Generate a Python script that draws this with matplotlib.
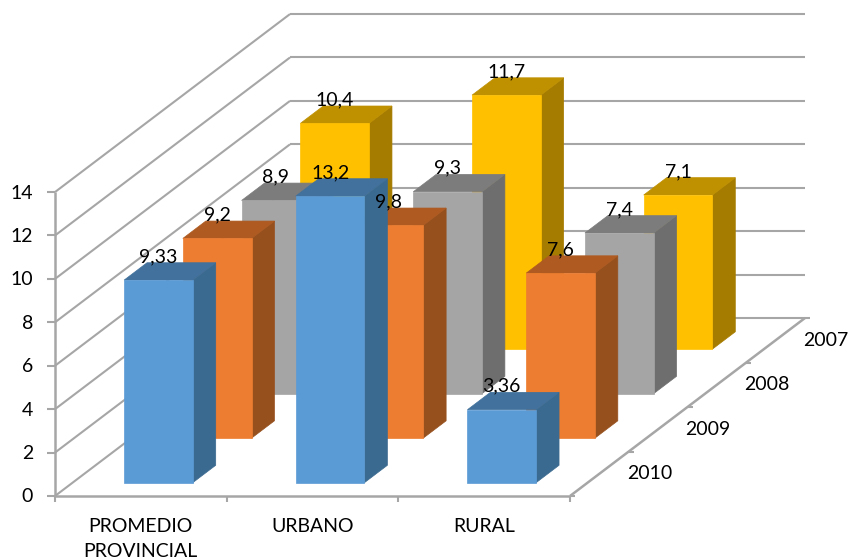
from matplotlib import pyplot as plt

plt.rcParams['font.family'] = ['Lato', 'DejaVu Sans']

categorias = ['PROMEDIO\nPROVINCIAL', 'URBANO', 'RURAL']
# de adelante hacia atras
anios = ['2010', '2009', '2008', '2007']
v2010 = [9.33, 13.2, 3.36]
v2009 = [9.2, 9.8, 7.6]
v2008 = [8.9, 9.3, 7.4]
v2007 = [10.4, 11.7, 7.1]
valores = [v2010, v2009, v2008, v2007]
yticks = [0, 2, 4, 6, 8, 10, 12, 14]

# frente, tapa, costado
colores = [('#5B9BD5', '#41719C', '#3B6A90'),
           ('#ED7D31', '#AE5A21', '#96501D'),
           ('#A5A5A5', '#7C7C7C', '#6E6E6E'),
           ('#FFC000', '#BF9000', '#A67C00')]
gris = '#A6A6A6'


def proy(x, d, v):
    # x en categorias, d en anios, v en valor -> pixel de la imagen
    return 55 + 171.67*x + 58.75*d, 496 - 44.5*d - 21.71*v


def linea(p1, p2, lw=1.5):
    ax.plot([p1[0], p2[0]], [p1[1], p2[1]], color=gris, lw=lw,
            solid_capstyle='butt', zorder=1)


def cara(puntos, col):
    ax.fill([p[0] for p in puntos], [p[1] for p in puntos], color=col,
            lw=0.5, zorder=2)


fig = plt.figure(figsize=(8.49, 5.6), dpi=100)
ax = fig.add_axes([0, 0, 1, 1])
ax.set_xlim(0, 849)
ax.set_ylim(560, 0)
ax.axis('off')

nx = len(categorias)
nd = len(anios)

# paredes
for t in yticks:
    linea(proy(0, 0, t), proy(0, nd, t))
    linea(proy(0, nd, t), proy(nx, nd, t))
    x0, y0 = proy(0, 0, t)
    linea((x0 - 8, y0), (x0, y0))
    ax.text(33, y0 + 1, str(t), ha='right', va='center', fontsize=14, color='black')
linea(proy(0, 0, 0), proy(0, 0, yticks[-1]), 1.8)

# piso
linea(proy(0, 0, 0), proy(nx, 0, 0), 1.8)
linea(proy(nx, 0, 0), proy(nx, nd, 0), 1.8)
for i in range(nx + 1):
    x0, y0 = proy(i, 0, 0)
    linea((x0, y0), (x0, y0 + 6))
for j in range(nd + 1):
    x0, y0 = proy(nx, j, 0)
    linea((x0, y0), (x0 + 5, y0))
for j in range(nd):
    x0, y0 = proy(nx, j + 0.5, 0)
    ax.text(x0 + 50, y0, anios[j], ha='center', va='center', fontsize=14)
for i in range(nx):
    x0, y0 = proy(i + 0.5, 0, 0)
    ax.text(x0, 518, categorias[i], ha='center', va='top', fontsize=14,
            linespacing=1.6)

# barras, de atras hacia adelante
x1, x2 = 0.3, 0.7
d1, d2 = 0.3, 0.69
for j in range(nd - 1, -1, -1):
    frente, tapa, costado = colores[j]
    for i in range(nx):
        v = valores[j][i]
        cara([proy(i + x2, j + d1, 0), proy(i + x2, j + d2, 0),
              proy(i + x2, j + d2, v), proy(i + x2, j + d1, v)], costado)
        cara([proy(i + x1, j + d1, v), proy(i + x2, j + d1, v),
              proy(i + x2, j + d2, v), proy(i + x1, j + d2, v)], tapa)
        cara([proy(i + x1, j + d1, 0), proy(i + x2, j + d1, 0),
              proy(i + x2, j + d1, v), proy(i + x1, j + d1, v)], frente)

# etiquetas arriba de todo
for j in range(nd):
    for i in range(nx):
        v = valores[j][i]
        xt, yt = proy(i + 0.5, j + d1, v)
        ax.text(xt, yt - 23.5, str(v).replace('.', ','), ha='center', va='center',
                fontsize=14, color='black', zorder=5)

fig.savefig('out.png', dpi=100)
